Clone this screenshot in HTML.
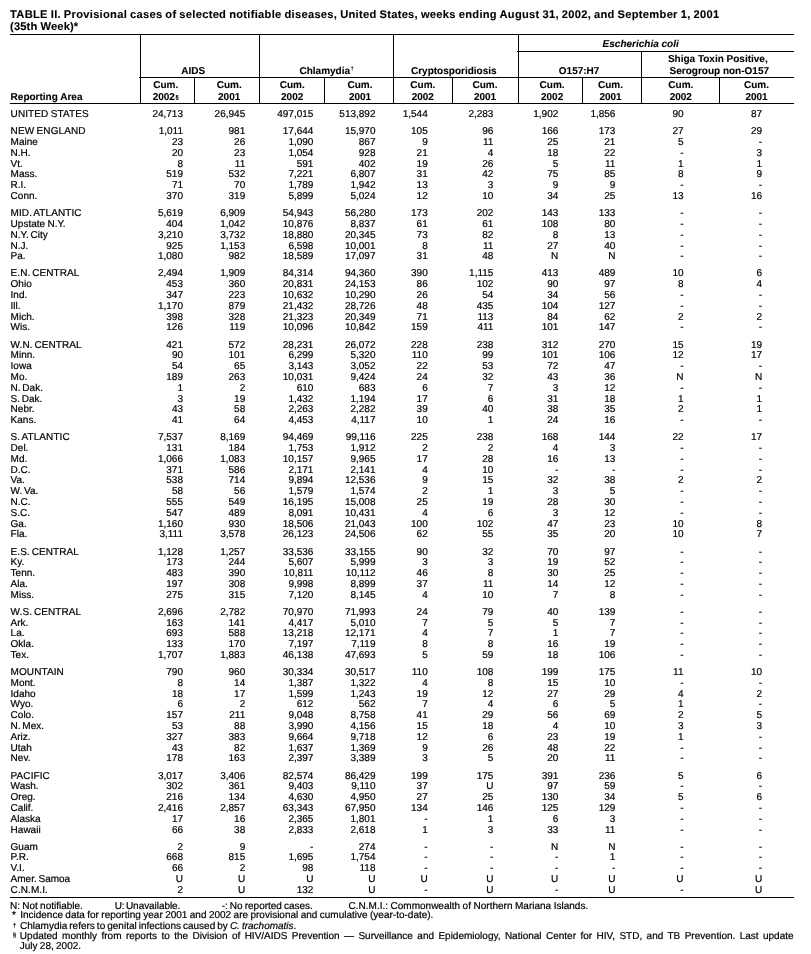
<!DOCTYPE html>
<html lang="en"><head><meta charset="utf-8"><title>TABLE II. Provisional cases of selected notifiable diseases</title>
<style>
html,body{margin:0;padding:0;background:#fff}
body{width:811px;height:954px;position:relative;overflow:hidden;font-family:"Liberation Sans",Arial,Helvetica,sans-serif;font-size:10.0px;line-height:11px;color:#000;text-rendering:geometricPrecision;-webkit-text-stroke:0.2px #000}
span{position:absolute;white-space:pre;display:block}
.b{font-weight:bold;-webkit-text-stroke:0.1px #000}
.i{font-style:italic}
.l{position:absolute;background:#000;display:block}
sup{font-size:5.2px;line-height:0;vertical-align:baseline;position:relative;top:-3.8px;margin-left:0.6px}
.s2{top:-1.5px;font-size:5.6px}
</style></head><body>
<span class="b" style="top:9px;left:10.10px;font-size:11.13px;line-height:12px;letter-spacing:0.295px;word-spacing:-0.46px;">TABLE II. Provisional cases of selected notifiable diseases, United States, weeks ending August 31, 2002, and September 1, 2001</span>
<span class="b" style="top:21px;left:10.10px;font-size:11.13px;line-height:12px;letter-spacing:0.14px;">(35th Week)*</span>
<i class="l" style="left:10px;top:34px;width:784px;height:1px"></i>
<i class="l" style="left:517px;top:51px;width:277px;height:1px"></i>
<i class="l" style="left:139px;top:77px;width:655px;height:1px"></i>
<i class="l" style="left:10px;top:103px;width:784px;height:1px"></i>
<i class="l" style="left:10px;top:897px;width:784px;height:1px"></i>
<i class="l" style="left:140px;top:34px;width:1px;height:70px"></i>
<i class="l" style="left:259px;top:34px;width:1px;height:70px"></i>
<i class="l" style="left:393px;top:34px;width:1px;height:70px"></i>
<i class="l" style="left:518px;top:34px;width:1px;height:70px"></i>
<i class="l" style="left:641px;top:51px;width:1px;height:53px"></i>
<i class="l" style="left:194px;top:77px;width:1px;height:27px"></i>
<i class="l" style="left:324px;top:77px;width:1px;height:27px"></i>
<i class="l" style="left:452px;top:77px;width:1px;height:27px"></i>
<i class="l" style="left:582px;top:77px;width:1px;height:27px"></i>
<i class="l" style="left:719px;top:77px;width:1px;height:27px"></i>
<span class="b" style="top:92px;left:10.60px;">Reporting Area</span>
<span class="b" style="top:66px;left:-6.75px;width:400px;text-align:center;">AIDS</span>
<span class="b" style="top:66px;left:299.50px;">Chlamydia<sup>†</sup></span>
<span class="b" style="top:66px;left:253.80px;width:400px;text-align:center;">Cryptosporidiosis</span>
<span class="b i" style="top:39px;left:440.70px;width:400px;text-align:center;">Escherichia coli</span>
<span class="b" style="top:66px;left:379.10px;width:400px;text-align:center;">O157:H7</span>
<span class="b" style="top:54px;left:517.80px;width:400px;text-align:center;">Shiga Toxin Positive,</span>
<span class="b" style="top:66px;left:519.30px;width:400px;text-align:center;">Serogroup non-O157</span>
<span class="b" style="top:80px;left:-34.35px;width:400px;text-align:center;">Cum.</span>
<span class="b" style="top:92px;left:-34.35px;width:400px;text-align:center;">2002<sup class="s2">§</sup></span>
<span class="b" style="top:80px;left:29.20px;width:400px;text-align:center;">Cum.</span>
<span class="b" style="top:92px;left:29.20px;width:400px;text-align:center;">2001</span>
<span class="b" style="top:80px;left:92.20px;width:400px;text-align:center;">Cum.</span>
<span class="b" style="top:92px;left:92.20px;width:400px;text-align:center;">2002</span>
<span class="b" style="top:80px;left:160.00px;width:400px;text-align:center;">Cum.</span>
<span class="b" style="top:92px;left:160.00px;width:400px;text-align:center;">2001</span>
<span class="b" style="top:80px;left:222.80px;width:400px;text-align:center;">Cum.</span>
<span class="b" style="top:92px;left:222.80px;width:400px;text-align:center;">2002</span>
<span class="b" style="top:80px;left:285.00px;width:400px;text-align:center;">Cum.</span>
<span class="b" style="top:92px;left:285.00px;width:400px;text-align:center;">2001</span>
<span class="b" style="top:80px;left:352.10px;width:400px;text-align:center;">Cum.</span>
<span class="b" style="top:92px;left:352.10px;width:400px;text-align:center;">2002</span>
<span class="b" style="top:80px;left:410.50px;width:400px;text-align:center;">Cum.</span>
<span class="b" style="top:92px;left:410.50px;width:400px;text-align:center;">2001</span>
<span class="b" style="top:80px;left:480.80px;width:400px;text-align:center;">Cum.</span>
<span class="b" style="top:92px;left:480.80px;width:400px;text-align:center;">2002</span>
<span class="b" style="top:80px;left:556.50px;width:400px;text-align:center;">Cum.</span>
<span class="b" style="top:92px;left:556.50px;width:400px;text-align:center;">2001</span>
<span style="top:109px;left:10.60px;word-spacing:-0.4px;letter-spacing:0.08px;">UNITED STATES</span>
<span style="top:109px;right:628.00px;">24,713</span>
<span style="top:109px;right:565.80px;">26,945</span>
<span style="top:109px;right:497.60px;">497,015</span>
<span style="top:109px;right:435.50px;">513,892</span>
<span style="top:109px;right:383.30px;">1,544</span>
<span style="top:109px;right:317.60px;">2,283</span>
<span style="top:109px;right:252.70px;">1,902</span>
<span style="top:109px;right:195.60px;">1,856</span>
<span style="top:109px;right:127.50px;">90</span>
<span style="top:109px;right:48.90px;">87</span>
<span style="top:126px;left:10.60px;word-spacing:-0.4px;letter-spacing:0.08px;">NEW ENGLAND</span>
<span style="top:126px;right:628.00px;">1,011</span>
<span style="top:126px;right:565.80px;">981</span>
<span style="top:126px;right:497.60px;">17,644</span>
<span style="top:126px;right:435.50px;">15,970</span>
<span style="top:126px;right:383.30px;">105</span>
<span style="top:126px;right:317.60px;">96</span>
<span style="top:126px;right:252.70px;">166</span>
<span style="top:126px;right:195.60px;">173</span>
<span style="top:126px;right:127.50px;">27</span>
<span style="top:126px;right:48.90px;">29</span>
<span style="top:137px;left:10.60px;">Maine</span>
<span style="top:137px;right:628.00px;">23</span>
<span style="top:137px;right:565.80px;">26</span>
<span style="top:137px;right:497.60px;">1,090</span>
<span style="top:137px;right:435.50px;">867</span>
<span style="top:137px;right:383.30px;">9</span>
<span style="top:137px;right:317.60px;">11</span>
<span style="top:137px;right:252.70px;">25</span>
<span style="top:137px;right:195.60px;">21</span>
<span style="top:137px;right:127.50px;">5</span>
<span style="top:137px;right:48.90px;">-</span>
<span style="top:148px;left:10.60px;">N.H.</span>
<span style="top:148px;right:628.00px;">20</span>
<span style="top:148px;right:565.80px;">23</span>
<span style="top:148px;right:497.60px;">1,054</span>
<span style="top:148px;right:435.50px;">928</span>
<span style="top:148px;right:383.30px;">21</span>
<span style="top:148px;right:317.60px;">4</span>
<span style="top:148px;right:252.70px;">18</span>
<span style="top:148px;right:195.60px;">22</span>
<span style="top:148px;right:127.50px;">-</span>
<span style="top:148px;right:48.90px;">3</span>
<span style="top:159px;left:10.60px;">Vt.</span>
<span style="top:159px;right:628.00px;">8</span>
<span style="top:159px;right:565.80px;">11</span>
<span style="top:159px;right:497.60px;">591</span>
<span style="top:159px;right:435.50px;">402</span>
<span style="top:159px;right:383.30px;">19</span>
<span style="top:159px;right:317.60px;">26</span>
<span style="top:159px;right:252.70px;">5</span>
<span style="top:159px;right:195.60px;">11</span>
<span style="top:159px;right:127.50px;">1</span>
<span style="top:159px;right:48.90px;">1</span>
<span style="top:169px;left:10.60px;">Mass.</span>
<span style="top:169px;right:628.00px;">519</span>
<span style="top:169px;right:565.80px;">532</span>
<span style="top:169px;right:497.60px;">7,221</span>
<span style="top:169px;right:435.50px;">6,807</span>
<span style="top:169px;right:383.30px;">31</span>
<span style="top:169px;right:317.60px;">42</span>
<span style="top:169px;right:252.70px;">75</span>
<span style="top:169px;right:195.60px;">85</span>
<span style="top:169px;right:127.50px;">8</span>
<span style="top:169px;right:48.90px;">9</span>
<span style="top:180px;left:10.60px;">R.I.</span>
<span style="top:180px;right:628.00px;">71</span>
<span style="top:180px;right:565.80px;">70</span>
<span style="top:180px;right:497.60px;">1,789</span>
<span style="top:180px;right:435.50px;">1,942</span>
<span style="top:180px;right:383.30px;">13</span>
<span style="top:180px;right:317.60px;">3</span>
<span style="top:180px;right:252.70px;">9</span>
<span style="top:180px;right:195.60px;">9</span>
<span style="top:180px;right:127.50px;">-</span>
<span style="top:180px;right:48.90px;">-</span>
<span style="top:191px;left:10.60px;">Conn.</span>
<span style="top:191px;right:628.00px;">370</span>
<span style="top:191px;right:565.80px;">319</span>
<span style="top:191px;right:497.60px;">5,899</span>
<span style="top:191px;right:435.50px;">5,024</span>
<span style="top:191px;right:383.30px;">12</span>
<span style="top:191px;right:317.60px;">10</span>
<span style="top:191px;right:252.70px;">34</span>
<span style="top:191px;right:195.60px;">25</span>
<span style="top:191px;right:127.50px;">13</span>
<span style="top:191px;right:48.90px;">16</span>
<span style="top:208px;left:10.60px;word-spacing:-1.0px;letter-spacing:0.08px;">MID. ATLANTIC</span>
<span style="top:208px;right:628.00px;">5,619</span>
<span style="top:208px;right:565.80px;">6,909</span>
<span style="top:208px;right:497.60px;">54,943</span>
<span style="top:208px;right:435.50px;">56,280</span>
<span style="top:208px;right:383.30px;">173</span>
<span style="top:208px;right:317.60px;">202</span>
<span style="top:208px;right:252.70px;">143</span>
<span style="top:208px;right:195.60px;">133</span>
<span style="top:208px;right:127.50px;">-</span>
<span style="top:208px;right:48.90px;">-</span>
<span style="top:219px;left:10.60px;word-spacing:-0.4px;">Upstate N.Y.</span>
<span style="top:219px;right:628.00px;">404</span>
<span style="top:219px;right:565.80px;">1,042</span>
<span style="top:219px;right:497.60px;">10,876</span>
<span style="top:219px;right:435.50px;">8,837</span>
<span style="top:219px;right:383.30px;">61</span>
<span style="top:219px;right:317.60px;">61</span>
<span style="top:219px;right:252.70px;">108</span>
<span style="top:219px;right:195.60px;">80</span>
<span style="top:219px;right:127.50px;">-</span>
<span style="top:219px;right:48.90px;">-</span>
<span style="top:230px;left:10.60px;word-spacing:-1.0px;">N.Y. City</span>
<span style="top:230px;right:628.00px;">3,210</span>
<span style="top:230px;right:565.80px;">3,732</span>
<span style="top:230px;right:497.60px;">18,880</span>
<span style="top:230px;right:435.50px;">20,345</span>
<span style="top:230px;right:383.30px;">73</span>
<span style="top:230px;right:317.60px;">82</span>
<span style="top:230px;right:252.70px;">8</span>
<span style="top:230px;right:195.60px;">13</span>
<span style="top:230px;right:127.50px;">-</span>
<span style="top:230px;right:48.90px;">-</span>
<span style="top:241px;left:10.60px;">N.J.</span>
<span style="top:241px;right:628.00px;">925</span>
<span style="top:241px;right:565.80px;">1,153</span>
<span style="top:241px;right:497.60px;">6,598</span>
<span style="top:241px;right:435.50px;">10,001</span>
<span style="top:241px;right:383.30px;">8</span>
<span style="top:241px;right:317.60px;">11</span>
<span style="top:241px;right:252.70px;">27</span>
<span style="top:241px;right:195.60px;">40</span>
<span style="top:241px;right:127.50px;">-</span>
<span style="top:241px;right:48.90px;">-</span>
<span style="top:251px;left:10.60px;">Pa.</span>
<span style="top:251px;right:628.00px;">1,080</span>
<span style="top:251px;right:565.80px;">982</span>
<span style="top:251px;right:497.60px;">18,589</span>
<span style="top:251px;right:435.50px;">17,097</span>
<span style="top:251px;right:383.30px;">31</span>
<span style="top:251px;right:317.60px;">48</span>
<span style="top:251px;right:252.70px;">N</span>
<span style="top:251px;right:195.60px;">N</span>
<span style="top:251px;right:127.50px;">-</span>
<span style="top:251px;right:48.90px;">-</span>
<span style="top:268px;left:10.60px;word-spacing:-1.0px;letter-spacing:0.08px;">E.N. CENTRAL</span>
<span style="top:268px;right:628.00px;">2,494</span>
<span style="top:268px;right:565.80px;">1,909</span>
<span style="top:268px;right:497.60px;">84,314</span>
<span style="top:268px;right:435.50px;">94,360</span>
<span style="top:268px;right:383.30px;">390</span>
<span style="top:268px;right:317.60px;">1,115</span>
<span style="top:268px;right:252.70px;">413</span>
<span style="top:268px;right:195.60px;">489</span>
<span style="top:268px;right:127.50px;">10</span>
<span style="top:268px;right:48.90px;">6</span>
<span style="top:279px;left:10.60px;">Ohio</span>
<span style="top:279px;right:628.00px;">453</span>
<span style="top:279px;right:565.80px;">360</span>
<span style="top:279px;right:497.60px;">20,831</span>
<span style="top:279px;right:435.50px;">24,153</span>
<span style="top:279px;right:383.30px;">86</span>
<span style="top:279px;right:317.60px;">102</span>
<span style="top:279px;right:252.70px;">90</span>
<span style="top:279px;right:195.60px;">97</span>
<span style="top:279px;right:127.50px;">8</span>
<span style="top:279px;right:48.90px;">4</span>
<span style="top:290px;left:10.60px;">Ind.</span>
<span style="top:290px;right:628.00px;">347</span>
<span style="top:290px;right:565.80px;">223</span>
<span style="top:290px;right:497.60px;">10,632</span>
<span style="top:290px;right:435.50px;">10,290</span>
<span style="top:290px;right:383.30px;">26</span>
<span style="top:290px;right:317.60px;">54</span>
<span style="top:290px;right:252.70px;">34</span>
<span style="top:290px;right:195.60px;">56</span>
<span style="top:290px;right:127.50px;">-</span>
<span style="top:290px;right:48.90px;">-</span>
<span style="top:301px;left:10.60px;">Ill.</span>
<span style="top:301px;right:628.00px;">1,170</span>
<span style="top:301px;right:565.80px;">879</span>
<span style="top:301px;right:497.60px;">21,432</span>
<span style="top:301px;right:435.50px;">28,726</span>
<span style="top:301px;right:383.30px;">48</span>
<span style="top:301px;right:317.60px;">435</span>
<span style="top:301px;right:252.70px;">104</span>
<span style="top:301px;right:195.60px;">127</span>
<span style="top:301px;right:127.50px;">-</span>
<span style="top:301px;right:48.90px;">-</span>
<span style="top:312px;left:10.60px;">Mich.</span>
<span style="top:312px;right:628.00px;">398</span>
<span style="top:312px;right:565.80px;">328</span>
<span style="top:312px;right:497.60px;">21,323</span>
<span style="top:312px;right:435.50px;">20,349</span>
<span style="top:312px;right:383.30px;">71</span>
<span style="top:312px;right:317.60px;">113</span>
<span style="top:312px;right:252.70px;">84</span>
<span style="top:312px;right:195.60px;">62</span>
<span style="top:312px;right:127.50px;">2</span>
<span style="top:312px;right:48.90px;">2</span>
<span style="top:322px;left:10.60px;">Wis.</span>
<span style="top:322px;right:628.00px;">126</span>
<span style="top:322px;right:565.80px;">119</span>
<span style="top:322px;right:497.60px;">10,096</span>
<span style="top:322px;right:435.50px;">10,842</span>
<span style="top:322px;right:383.30px;">159</span>
<span style="top:322px;right:317.60px;">411</span>
<span style="top:322px;right:252.70px;">101</span>
<span style="top:322px;right:195.60px;">147</span>
<span style="top:322px;right:127.50px;">-</span>
<span style="top:322px;right:48.90px;">-</span>
<span style="top:340px;left:10.60px;word-spacing:-1.0px;letter-spacing:0.08px;">W.N. CENTRAL</span>
<span style="top:340px;right:628.00px;">421</span>
<span style="top:340px;right:565.80px;">572</span>
<span style="top:340px;right:497.60px;">28,231</span>
<span style="top:340px;right:435.50px;">26,072</span>
<span style="top:340px;right:383.30px;">228</span>
<span style="top:340px;right:317.60px;">238</span>
<span style="top:340px;right:252.70px;">312</span>
<span style="top:340px;right:195.60px;">270</span>
<span style="top:340px;right:127.50px;">15</span>
<span style="top:340px;right:48.90px;">19</span>
<span style="top:350px;left:10.60px;">Minn.</span>
<span style="top:350px;right:628.00px;">90</span>
<span style="top:350px;right:565.80px;">101</span>
<span style="top:350px;right:497.60px;">6,299</span>
<span style="top:350px;right:435.50px;">5,320</span>
<span style="top:350px;right:383.30px;">110</span>
<span style="top:350px;right:317.60px;">99</span>
<span style="top:350px;right:252.70px;">101</span>
<span style="top:350px;right:195.60px;">106</span>
<span style="top:350px;right:127.50px;">12</span>
<span style="top:350px;right:48.90px;">17</span>
<span style="top:361px;left:10.60px;">Iowa</span>
<span style="top:361px;right:628.00px;">54</span>
<span style="top:361px;right:565.80px;">65</span>
<span style="top:361px;right:497.60px;">3,143</span>
<span style="top:361px;right:435.50px;">3,052</span>
<span style="top:361px;right:383.30px;">22</span>
<span style="top:361px;right:317.60px;">53</span>
<span style="top:361px;right:252.70px;">72</span>
<span style="top:361px;right:195.60px;">47</span>
<span style="top:361px;right:127.50px;">-</span>
<span style="top:361px;right:48.90px;">-</span>
<span style="top:372px;left:10.60px;">Mo.</span>
<span style="top:372px;right:628.00px;">189</span>
<span style="top:372px;right:565.80px;">263</span>
<span style="top:372px;right:497.60px;">10,031</span>
<span style="top:372px;right:435.50px;">9,424</span>
<span style="top:372px;right:383.30px;">24</span>
<span style="top:372px;right:317.60px;">32</span>
<span style="top:372px;right:252.70px;">43</span>
<span style="top:372px;right:195.60px;">36</span>
<span style="top:372px;right:127.50px;">N</span>
<span style="top:372px;right:48.90px;">N</span>
<span style="top:383px;left:10.60px;word-spacing:-1.0px;">N. Dak.</span>
<span style="top:383px;right:628.00px;">1</span>
<span style="top:383px;right:565.80px;">2</span>
<span style="top:383px;right:497.60px;">610</span>
<span style="top:383px;right:435.50px;">683</span>
<span style="top:383px;right:383.30px;">6</span>
<span style="top:383px;right:317.60px;">7</span>
<span style="top:383px;right:252.70px;">3</span>
<span style="top:383px;right:195.60px;">12</span>
<span style="top:383px;right:127.50px;">-</span>
<span style="top:383px;right:48.90px;">-</span>
<span style="top:394px;left:10.60px;word-spacing:-1.0px;">S. Dak.</span>
<span style="top:394px;right:628.00px;">3</span>
<span style="top:394px;right:565.80px;">19</span>
<span style="top:394px;right:497.60px;">1,432</span>
<span style="top:394px;right:435.50px;">1,194</span>
<span style="top:394px;right:383.30px;">17</span>
<span style="top:394px;right:317.60px;">6</span>
<span style="top:394px;right:252.70px;">31</span>
<span style="top:394px;right:195.60px;">18</span>
<span style="top:394px;right:127.50px;">1</span>
<span style="top:394px;right:48.90px;">1</span>
<span style="top:404px;left:10.60px;">Nebr.</span>
<span style="top:404px;right:628.00px;">43</span>
<span style="top:404px;right:565.80px;">58</span>
<span style="top:404px;right:497.60px;">2,263</span>
<span style="top:404px;right:435.50px;">2,282</span>
<span style="top:404px;right:383.30px;">39</span>
<span style="top:404px;right:317.60px;">40</span>
<span style="top:404px;right:252.70px;">38</span>
<span style="top:404px;right:195.60px;">35</span>
<span style="top:404px;right:127.50px;">2</span>
<span style="top:404px;right:48.90px;">1</span>
<span style="top:415px;left:10.60px;">Kans.</span>
<span style="top:415px;right:628.00px;">41</span>
<span style="top:415px;right:565.80px;">64</span>
<span style="top:415px;right:497.60px;">4,453</span>
<span style="top:415px;right:435.50px;">4,117</span>
<span style="top:415px;right:383.30px;">10</span>
<span style="top:415px;right:317.60px;">1</span>
<span style="top:415px;right:252.70px;">24</span>
<span style="top:415px;right:195.60px;">16</span>
<span style="top:415px;right:127.50px;">-</span>
<span style="top:415px;right:48.90px;">-</span>
<span style="top:432px;left:10.60px;word-spacing:-1.0px;letter-spacing:0.08px;">S. ATLANTIC</span>
<span style="top:432px;right:628.00px;">7,537</span>
<span style="top:432px;right:565.80px;">8,169</span>
<span style="top:432px;right:497.60px;">94,469</span>
<span style="top:432px;right:435.50px;">99,116</span>
<span style="top:432px;right:383.30px;">225</span>
<span style="top:432px;right:317.60px;">238</span>
<span style="top:432px;right:252.70px;">168</span>
<span style="top:432px;right:195.60px;">144</span>
<span style="top:432px;right:127.50px;">22</span>
<span style="top:432px;right:48.90px;">17</span>
<span style="top:443px;left:10.60px;">Del.</span>
<span style="top:443px;right:628.00px;">131</span>
<span style="top:443px;right:565.80px;">184</span>
<span style="top:443px;right:497.60px;">1,753</span>
<span style="top:443px;right:435.50px;">1,912</span>
<span style="top:443px;right:383.30px;">2</span>
<span style="top:443px;right:317.60px;">2</span>
<span style="top:443px;right:252.70px;">4</span>
<span style="top:443px;right:195.60px;">3</span>
<span style="top:443px;right:127.50px;">-</span>
<span style="top:443px;right:48.90px;">-</span>
<span style="top:454px;left:10.60px;">Md.</span>
<span style="top:454px;right:628.00px;">1,066</span>
<span style="top:454px;right:565.80px;">1,083</span>
<span style="top:454px;right:497.60px;">10,157</span>
<span style="top:454px;right:435.50px;">9,965</span>
<span style="top:454px;right:383.30px;">17</span>
<span style="top:454px;right:317.60px;">28</span>
<span style="top:454px;right:252.70px;">16</span>
<span style="top:454px;right:195.60px;">13</span>
<span style="top:454px;right:127.50px;">-</span>
<span style="top:454px;right:48.90px;">-</span>
<span style="top:465px;left:10.60px;">D.C.</span>
<span style="top:465px;right:628.00px;">371</span>
<span style="top:465px;right:565.80px;">586</span>
<span style="top:465px;right:497.60px;">2,171</span>
<span style="top:465px;right:435.50px;">2,141</span>
<span style="top:465px;right:383.30px;">4</span>
<span style="top:465px;right:317.60px;">10</span>
<span style="top:465px;right:252.70px;">-</span>
<span style="top:465px;right:195.60px;">-</span>
<span style="top:465px;right:127.50px;">-</span>
<span style="top:465px;right:48.90px;">-</span>
<span style="top:475px;left:10.60px;">Va.</span>
<span style="top:475px;right:628.00px;">538</span>
<span style="top:475px;right:565.80px;">714</span>
<span style="top:475px;right:497.60px;">9,894</span>
<span style="top:475px;right:435.50px;">12,536</span>
<span style="top:475px;right:383.30px;">9</span>
<span style="top:475px;right:317.60px;">15</span>
<span style="top:475px;right:252.70px;">32</span>
<span style="top:475px;right:195.60px;">38</span>
<span style="top:475px;right:127.50px;">2</span>
<span style="top:475px;right:48.90px;">2</span>
<span style="top:486px;left:10.60px;word-spacing:-1.0px;">W. Va.</span>
<span style="top:486px;right:628.00px;">58</span>
<span style="top:486px;right:565.80px;">56</span>
<span style="top:486px;right:497.60px;">1,579</span>
<span style="top:486px;right:435.50px;">1,574</span>
<span style="top:486px;right:383.30px;">2</span>
<span style="top:486px;right:317.60px;">1</span>
<span style="top:486px;right:252.70px;">3</span>
<span style="top:486px;right:195.60px;">5</span>
<span style="top:486px;right:127.50px;">-</span>
<span style="top:486px;right:48.90px;">-</span>
<span style="top:497px;left:10.60px;">N.C.</span>
<span style="top:497px;right:628.00px;">555</span>
<span style="top:497px;right:565.80px;">549</span>
<span style="top:497px;right:497.60px;">16,195</span>
<span style="top:497px;right:435.50px;">15,008</span>
<span style="top:497px;right:383.30px;">25</span>
<span style="top:497px;right:317.60px;">19</span>
<span style="top:497px;right:252.70px;">28</span>
<span style="top:497px;right:195.60px;">30</span>
<span style="top:497px;right:127.50px;">-</span>
<span style="top:497px;right:48.90px;">-</span>
<span style="top:508px;left:10.60px;">S.C.</span>
<span style="top:508px;right:628.00px;">547</span>
<span style="top:508px;right:565.80px;">489</span>
<span style="top:508px;right:497.60px;">8,091</span>
<span style="top:508px;right:435.50px;">10,431</span>
<span style="top:508px;right:383.30px;">4</span>
<span style="top:508px;right:317.60px;">6</span>
<span style="top:508px;right:252.70px;">3</span>
<span style="top:508px;right:195.60px;">12</span>
<span style="top:508px;right:127.50px;">-</span>
<span style="top:508px;right:48.90px;">-</span>
<span style="top:519px;left:10.60px;">Ga.</span>
<span style="top:519px;right:628.00px;">1,160</span>
<span style="top:519px;right:565.80px;">930</span>
<span style="top:519px;right:497.60px;">18,506</span>
<span style="top:519px;right:435.50px;">21,043</span>
<span style="top:519px;right:383.30px;">100</span>
<span style="top:519px;right:317.60px;">102</span>
<span style="top:519px;right:252.70px;">47</span>
<span style="top:519px;right:195.60px;">23</span>
<span style="top:519px;right:127.50px;">10</span>
<span style="top:519px;right:48.90px;">8</span>
<span style="top:529px;left:10.60px;">Fla.</span>
<span style="top:529px;right:628.00px;">3,111</span>
<span style="top:529px;right:565.80px;">3,578</span>
<span style="top:529px;right:497.60px;">26,123</span>
<span style="top:529px;right:435.50px;">24,506</span>
<span style="top:529px;right:383.30px;">62</span>
<span style="top:529px;right:317.60px;">55</span>
<span style="top:529px;right:252.70px;">35</span>
<span style="top:529px;right:195.60px;">20</span>
<span style="top:529px;right:127.50px;">10</span>
<span style="top:529px;right:48.90px;">7</span>
<span style="top:547px;left:10.60px;word-spacing:-1.0px;letter-spacing:0.08px;">E.S. CENTRAL</span>
<span style="top:547px;right:628.00px;">1,128</span>
<span style="top:547px;right:565.80px;">1,257</span>
<span style="top:547px;right:497.60px;">33,536</span>
<span style="top:547px;right:435.50px;">33,155</span>
<span style="top:547px;right:383.30px;">90</span>
<span style="top:547px;right:317.60px;">32</span>
<span style="top:547px;right:252.70px;">70</span>
<span style="top:547px;right:195.60px;">97</span>
<span style="top:547px;right:127.50px;">-</span>
<span style="top:547px;right:48.90px;">-</span>
<span style="top:557px;left:10.60px;">Ky.</span>
<span style="top:557px;right:628.00px;">173</span>
<span style="top:557px;right:565.80px;">244</span>
<span style="top:557px;right:497.60px;">5,607</span>
<span style="top:557px;right:435.50px;">5,999</span>
<span style="top:557px;right:383.30px;">3</span>
<span style="top:557px;right:317.60px;">3</span>
<span style="top:557px;right:252.70px;">19</span>
<span style="top:557px;right:195.60px;">52</span>
<span style="top:557px;right:127.50px;">-</span>
<span style="top:557px;right:48.90px;">-</span>
<span style="top:568px;left:10.60px;">Tenn.</span>
<span style="top:568px;right:628.00px;">483</span>
<span style="top:568px;right:565.80px;">390</span>
<span style="top:568px;right:497.60px;">10,811</span>
<span style="top:568px;right:435.50px;">10,112</span>
<span style="top:568px;right:383.30px;">46</span>
<span style="top:568px;right:317.60px;">8</span>
<span style="top:568px;right:252.70px;">30</span>
<span style="top:568px;right:195.60px;">25</span>
<span style="top:568px;right:127.50px;">-</span>
<span style="top:568px;right:48.90px;">-</span>
<span style="top:579px;left:10.60px;">Ala.</span>
<span style="top:579px;right:628.00px;">197</span>
<span style="top:579px;right:565.80px;">308</span>
<span style="top:579px;right:497.60px;">9,998</span>
<span style="top:579px;right:435.50px;">8,899</span>
<span style="top:579px;right:383.30px;">37</span>
<span style="top:579px;right:317.60px;">11</span>
<span style="top:579px;right:252.70px;">14</span>
<span style="top:579px;right:195.60px;">12</span>
<span style="top:579px;right:127.50px;">-</span>
<span style="top:579px;right:48.90px;">-</span>
<span style="top:590px;left:10.60px;">Miss.</span>
<span style="top:590px;right:628.00px;">275</span>
<span style="top:590px;right:565.80px;">315</span>
<span style="top:590px;right:497.60px;">7,120</span>
<span style="top:590px;right:435.50px;">8,145</span>
<span style="top:590px;right:383.30px;">4</span>
<span style="top:590px;right:317.60px;">10</span>
<span style="top:590px;right:252.70px;">7</span>
<span style="top:590px;right:195.60px;">8</span>
<span style="top:590px;right:127.50px;">-</span>
<span style="top:590px;right:48.90px;">-</span>
<span style="top:607px;left:10.60px;word-spacing:-1.0px;letter-spacing:0.08px;">W.S. CENTRAL</span>
<span style="top:607px;right:628.00px;">2,696</span>
<span style="top:607px;right:565.80px;">2,782</span>
<span style="top:607px;right:497.60px;">70,970</span>
<span style="top:607px;right:435.50px;">71,993</span>
<span style="top:607px;right:383.30px;">24</span>
<span style="top:607px;right:317.60px;">79</span>
<span style="top:607px;right:252.70px;">40</span>
<span style="top:607px;right:195.60px;">139</span>
<span style="top:607px;right:127.50px;">-</span>
<span style="top:607px;right:48.90px;">-</span>
<span style="top:618px;left:10.60px;">Ark.</span>
<span style="top:618px;right:628.00px;">163</span>
<span style="top:618px;right:565.80px;">141</span>
<span style="top:618px;right:497.60px;">4,417</span>
<span style="top:618px;right:435.50px;">5,010</span>
<span style="top:618px;right:383.30px;">7</span>
<span style="top:618px;right:317.60px;">5</span>
<span style="top:618px;right:252.70px;">5</span>
<span style="top:618px;right:195.60px;">7</span>
<span style="top:618px;right:127.50px;">-</span>
<span style="top:618px;right:48.90px;">-</span>
<span style="top:628px;left:10.60px;">La.</span>
<span style="top:628px;right:628.00px;">693</span>
<span style="top:628px;right:565.80px;">588</span>
<span style="top:628px;right:497.60px;">13,218</span>
<span style="top:628px;right:435.50px;">12,171</span>
<span style="top:628px;right:383.30px;">4</span>
<span style="top:628px;right:317.60px;">7</span>
<span style="top:628px;right:252.70px;">1</span>
<span style="top:628px;right:195.60px;">7</span>
<span style="top:628px;right:127.50px;">-</span>
<span style="top:628px;right:48.90px;">-</span>
<span style="top:639px;left:10.60px;">Okla.</span>
<span style="top:639px;right:628.00px;">133</span>
<span style="top:639px;right:565.80px;">170</span>
<span style="top:639px;right:497.60px;">7,197</span>
<span style="top:639px;right:435.50px;">7,119</span>
<span style="top:639px;right:383.30px;">8</span>
<span style="top:639px;right:317.60px;">8</span>
<span style="top:639px;right:252.70px;">16</span>
<span style="top:639px;right:195.60px;">19</span>
<span style="top:639px;right:127.50px;">-</span>
<span style="top:639px;right:48.90px;">-</span>
<span style="top:650px;left:10.60px;">Tex.</span>
<span style="top:650px;right:628.00px;">1,707</span>
<span style="top:650px;right:565.80px;">1,883</span>
<span style="top:650px;right:497.60px;">46,138</span>
<span style="top:650px;right:435.50px;">47,693</span>
<span style="top:650px;right:383.30px;">5</span>
<span style="top:650px;right:317.60px;">59</span>
<span style="top:650px;right:252.70px;">18</span>
<span style="top:650px;right:195.60px;">106</span>
<span style="top:650px;right:127.50px;">-</span>
<span style="top:650px;right:48.90px;">-</span>
<span style="top:667px;left:10.60px;letter-spacing:0.08px;">MOUNTAIN</span>
<span style="top:667px;right:628.00px;">790</span>
<span style="top:667px;right:565.80px;">960</span>
<span style="top:667px;right:497.60px;">30,334</span>
<span style="top:667px;right:435.50px;">30,517</span>
<span style="top:667px;right:383.30px;">110</span>
<span style="top:667px;right:317.60px;">108</span>
<span style="top:667px;right:252.70px;">199</span>
<span style="top:667px;right:195.60px;">175</span>
<span style="top:667px;right:127.50px;">11</span>
<span style="top:667px;right:48.90px;">10</span>
<span style="top:678px;left:10.60px;">Mont.</span>
<span style="top:678px;right:628.00px;">8</span>
<span style="top:678px;right:565.80px;">14</span>
<span style="top:678px;right:497.60px;">1,387</span>
<span style="top:678px;right:435.50px;">1,322</span>
<span style="top:678px;right:383.30px;">4</span>
<span style="top:678px;right:317.60px;">8</span>
<span style="top:678px;right:252.70px;">15</span>
<span style="top:678px;right:195.60px;">10</span>
<span style="top:678px;right:127.50px;">-</span>
<span style="top:678px;right:48.90px;">-</span>
<span style="top:689px;left:10.60px;">Idaho</span>
<span style="top:689px;right:628.00px;">18</span>
<span style="top:689px;right:565.80px;">17</span>
<span style="top:689px;right:497.60px;">1,599</span>
<span style="top:689px;right:435.50px;">1,243</span>
<span style="top:689px;right:383.30px;">19</span>
<span style="top:689px;right:317.60px;">12</span>
<span style="top:689px;right:252.70px;">27</span>
<span style="top:689px;right:195.60px;">29</span>
<span style="top:689px;right:127.50px;">4</span>
<span style="top:689px;right:48.90px;">2</span>
<span style="top:699px;left:10.60px;">Wyo.</span>
<span style="top:699px;right:628.00px;">6</span>
<span style="top:699px;right:565.80px;">2</span>
<span style="top:699px;right:497.60px;">612</span>
<span style="top:699px;right:435.50px;">562</span>
<span style="top:699px;right:383.30px;">7</span>
<span style="top:699px;right:317.60px;">4</span>
<span style="top:699px;right:252.70px;">6</span>
<span style="top:699px;right:195.60px;">5</span>
<span style="top:699px;right:127.50px;">1</span>
<span style="top:699px;right:48.90px;">-</span>
<span style="top:710px;left:10.60px;">Colo.</span>
<span style="top:710px;right:628.00px;">157</span>
<span style="top:710px;right:565.80px;">211</span>
<span style="top:710px;right:497.60px;">9,048</span>
<span style="top:710px;right:435.50px;">8,758</span>
<span style="top:710px;right:383.30px;">41</span>
<span style="top:710px;right:317.60px;">29</span>
<span style="top:710px;right:252.70px;">56</span>
<span style="top:710px;right:195.60px;">69</span>
<span style="top:710px;right:127.50px;">2</span>
<span style="top:710px;right:48.90px;">5</span>
<span style="top:721px;left:10.60px;word-spacing:-1.0px;">N. Mex.</span>
<span style="top:721px;right:628.00px;">53</span>
<span style="top:721px;right:565.80px;">88</span>
<span style="top:721px;right:497.60px;">3,990</span>
<span style="top:721px;right:435.50px;">4,156</span>
<span style="top:721px;right:383.30px;">15</span>
<span style="top:721px;right:317.60px;">18</span>
<span style="top:721px;right:252.70px;">4</span>
<span style="top:721px;right:195.60px;">10</span>
<span style="top:721px;right:127.50px;">3</span>
<span style="top:721px;right:48.90px;">3</span>
<span style="top:732px;left:10.60px;">Ariz.</span>
<span style="top:732px;right:628.00px;">327</span>
<span style="top:732px;right:565.80px;">383</span>
<span style="top:732px;right:497.60px;">9,664</span>
<span style="top:732px;right:435.50px;">9,718</span>
<span style="top:732px;right:383.30px;">12</span>
<span style="top:732px;right:317.60px;">6</span>
<span style="top:732px;right:252.70px;">23</span>
<span style="top:732px;right:195.60px;">19</span>
<span style="top:732px;right:127.50px;">1</span>
<span style="top:732px;right:48.90px;">-</span>
<span style="top:743px;left:10.60px;">Utah</span>
<span style="top:743px;right:628.00px;">43</span>
<span style="top:743px;right:565.80px;">82</span>
<span style="top:743px;right:497.60px;">1,637</span>
<span style="top:743px;right:435.50px;">1,369</span>
<span style="top:743px;right:383.30px;">9</span>
<span style="top:743px;right:317.60px;">26</span>
<span style="top:743px;right:252.70px;">48</span>
<span style="top:743px;right:195.60px;">22</span>
<span style="top:743px;right:127.50px;">-</span>
<span style="top:743px;right:48.90px;">-</span>
<span style="top:753px;left:10.60px;">Nev.</span>
<span style="top:753px;right:628.00px;">178</span>
<span style="top:753px;right:565.80px;">163</span>
<span style="top:753px;right:497.60px;">2,397</span>
<span style="top:753px;right:435.50px;">3,389</span>
<span style="top:753px;right:383.30px;">3</span>
<span style="top:753px;right:317.60px;">5</span>
<span style="top:753px;right:252.70px;">20</span>
<span style="top:753px;right:195.60px;">11</span>
<span style="top:753px;right:127.50px;">-</span>
<span style="top:753px;right:48.90px;">-</span>
<span style="top:771px;left:10.60px;letter-spacing:0.08px;">PACIFIC</span>
<span style="top:771px;right:628.00px;">3,017</span>
<span style="top:771px;right:565.80px;">3,406</span>
<span style="top:771px;right:497.60px;">82,574</span>
<span style="top:771px;right:435.50px;">86,429</span>
<span style="top:771px;right:383.30px;">199</span>
<span style="top:771px;right:317.60px;">175</span>
<span style="top:771px;right:252.70px;">391</span>
<span style="top:771px;right:195.60px;">236</span>
<span style="top:771px;right:127.50px;">5</span>
<span style="top:771px;right:48.90px;">6</span>
<span style="top:781px;left:10.60px;">Wash.</span>
<span style="top:781px;right:628.00px;">302</span>
<span style="top:781px;right:565.80px;">361</span>
<span style="top:781px;right:497.60px;">9,403</span>
<span style="top:781px;right:435.50px;">9,110</span>
<span style="top:781px;right:383.30px;">37</span>
<span style="top:781px;right:317.60px;">U</span>
<span style="top:781px;right:252.70px;">97</span>
<span style="top:781px;right:195.60px;">59</span>
<span style="top:781px;right:127.50px;">-</span>
<span style="top:781px;right:48.90px;">-</span>
<span style="top:792px;left:10.60px;">Oreg.</span>
<span style="top:792px;right:628.00px;">216</span>
<span style="top:792px;right:565.80px;">134</span>
<span style="top:792px;right:497.60px;">4,630</span>
<span style="top:792px;right:435.50px;">4,950</span>
<span style="top:792px;right:383.30px;">27</span>
<span style="top:792px;right:317.60px;">25</span>
<span style="top:792px;right:252.70px;">130</span>
<span style="top:792px;right:195.60px;">34</span>
<span style="top:792px;right:127.50px;">5</span>
<span style="top:792px;right:48.90px;">6</span>
<span style="top:803px;left:10.60px;">Calif.</span>
<span style="top:803px;right:628.00px;">2,416</span>
<span style="top:803px;right:565.80px;">2,857</span>
<span style="top:803px;right:497.60px;">63,343</span>
<span style="top:803px;right:435.50px;">67,950</span>
<span style="top:803px;right:383.30px;">134</span>
<span style="top:803px;right:317.60px;">146</span>
<span style="top:803px;right:252.70px;">125</span>
<span style="top:803px;right:195.60px;">129</span>
<span style="top:803px;right:127.50px;">-</span>
<span style="top:803px;right:48.90px;">-</span>
<span style="top:814px;left:10.60px;">Alaska</span>
<span style="top:814px;right:628.00px;">17</span>
<span style="top:814px;right:565.80px;">16</span>
<span style="top:814px;right:497.60px;">2,365</span>
<span style="top:814px;right:435.50px;">1,801</span>
<span style="top:814px;right:383.30px;">-</span>
<span style="top:814px;right:317.60px;">1</span>
<span style="top:814px;right:252.70px;">6</span>
<span style="top:814px;right:195.60px;">3</span>
<span style="top:814px;right:127.50px;">-</span>
<span style="top:814px;right:48.90px;">-</span>
<span style="top:825px;left:10.60px;">Hawaii</span>
<span style="top:825px;right:628.00px;">66</span>
<span style="top:825px;right:565.80px;">38</span>
<span style="top:825px;right:497.60px;">2,833</span>
<span style="top:825px;right:435.50px;">2,618</span>
<span style="top:825px;right:383.30px;">1</span>
<span style="top:825px;right:317.60px;">3</span>
<span style="top:825px;right:252.70px;">33</span>
<span style="top:825px;right:195.60px;">11</span>
<span style="top:825px;right:127.50px;">-</span>
<span style="top:825px;right:48.90px;">-</span>
<span style="top:842px;left:10.60px;">Guam</span>
<span style="top:842px;right:628.00px;">2</span>
<span style="top:842px;right:565.80px;">9</span>
<span style="top:842px;right:497.60px;">-</span>
<span style="top:842px;right:435.50px;">274</span>
<span style="top:842px;right:383.30px;">-</span>
<span style="top:842px;right:317.60px;">-</span>
<span style="top:842px;right:252.70px;">N</span>
<span style="top:842px;right:195.60px;">N</span>
<span style="top:842px;right:127.50px;">-</span>
<span style="top:842px;right:48.90px;">-</span>
<span style="top:852px;left:10.60px;">P.R.</span>
<span style="top:852px;right:628.00px;">668</span>
<span style="top:852px;right:565.80px;">815</span>
<span style="top:852px;right:497.60px;">1,695</span>
<span style="top:852px;right:435.50px;">1,754</span>
<span style="top:852px;right:383.30px;">-</span>
<span style="top:852px;right:317.60px;">-</span>
<span style="top:852px;right:252.70px;">-</span>
<span style="top:852px;right:195.60px;">1</span>
<span style="top:852px;right:127.50px;">-</span>
<span style="top:852px;right:48.90px;">-</span>
<span style="top:863px;left:10.60px;">V.I.</span>
<span style="top:863px;right:628.00px;">66</span>
<span style="top:863px;right:565.80px;">2</span>
<span style="top:863px;right:497.60px;">98</span>
<span style="top:863px;right:435.50px;">118</span>
<span style="top:863px;right:383.30px;">-</span>
<span style="top:863px;right:317.60px;">-</span>
<span style="top:863px;right:252.70px;">-</span>
<span style="top:863px;right:195.60px;">-</span>
<span style="top:863px;right:127.50px;">-</span>
<span style="top:863px;right:48.90px;">-</span>
<span style="top:874px;left:10.60px;word-spacing:-1.0px;">Amer. Samoa</span>
<span style="top:874px;right:628.00px;">U</span>
<span style="top:874px;right:565.80px;">U</span>
<span style="top:874px;right:497.60px;">U</span>
<span style="top:874px;right:435.50px;">U</span>
<span style="top:874px;right:383.30px;">U</span>
<span style="top:874px;right:317.60px;">U</span>
<span style="top:874px;right:252.70px;">U</span>
<span style="top:874px;right:195.60px;">U</span>
<span style="top:874px;right:127.50px;">U</span>
<span style="top:874px;right:48.90px;">U</span>
<span style="top:885px;left:10.60px;letter-spacing:0.08px;">C.N.M.I.</span>
<span style="top:885px;right:628.00px;">2</span>
<span style="top:885px;right:565.80px;">U</span>
<span style="top:885px;right:497.60px;">132</span>
<span style="top:885px;right:435.50px;">U</span>
<span style="top:885px;right:383.30px;">-</span>
<span style="top:885px;right:317.60px;">U</span>
<span style="top:885px;right:252.70px;">-</span>
<span style="top:885px;right:195.60px;">U</span>
<span style="top:885px;right:127.50px;">-</span>
<span style="top:885px;right:48.90px;">U</span>
<span style="top:901px;left:10.10px;word-spacing:-0.563px;">N: Not notifiable.</span>
<span style="top:901px;left:114.65px;word-spacing:-1.300px;letter-spacing:-0.054px;">U: Unavailable.</span>
<span style="top:901px;left:221.65px;word-spacing:-0.708px;">-: No reported cases.</span>
<span style="top:901px;left:348.55px;word-spacing:-0.199px;">C.N.M.I.: Commonwealth of Northern Mariana Islands.</span>
<span style="top:910px;left:12.00px;">*</span>
<span style="top:910px;left:20.15px;word-spacing:-0.352px;">Incidence data for reporting year 2001 and 2002 are provisional and cumulative (year-to-date).</span>
<span style="top:921px;left:13.00px;font-size:5.5px;">†</span>
<span style="top:921px;left:20.00px;word-spacing:-0.75px;">Chlamydia refers to genital infections caused by <em>C. trachomatis</em>.</span>
<span style="top:930px;left:12.70px;font-size:6.2px;">§</span>
<span style="top:931px;left:19.85px;word-spacing:1.628px;">Updated monthly from reports to the Division of HIV/AIDS Prevention — Surveillance and Epidemiology, National Center for HIV, STD, and TB Prevention. Last update</span>
<span style="top:941px;left:19.80px;word-spacing:-0.5px;">July 28, 2002.</span>
</body></html>
